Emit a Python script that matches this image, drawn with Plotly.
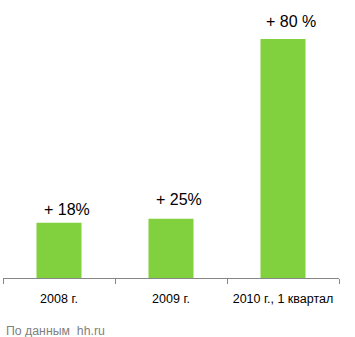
import plotly.graph_objects as go

categories = ["2008 г.", "2009 г.", "2010 г., 1 квартал"]
values = [18, 19.3, 78]
labels = ["+ 18%", "+ 25%", "+ 80 %"]
source = "По данным  hh.ru"

label_yshift = [3, 9, 7]

fig = go.Figure()
fig.add_trace(go.Bar(x=categories, y=values, marker=dict(color="#80d13d", line=dict(width=0)),
                     hoverinfo="skip"))

for c, v, t, ys in zip(categories, values, labels, label_yshift):
    fig.add_annotation(x=c, y=v, text=t, showarrow=False, xshift=8, yshift=ys,
                       yanchor="bottom", font=dict(size=16, color="#000000",
                                                   family="Liberation Sans, Arial"))

fig.add_annotation(xref="paper", yref="paper", x=0, y=-0.19, xanchor="left", yanchor="middle",
                   xshift=1, text=source, showarrow=False,
                   font=dict(size=12.3, color="#808080", family="Liberation Sans, Arial"))

fig.update_layout(
    width=355, height=337,
    margin=dict(l=3, r=16, t=0, b=59),
    paper_bgcolor="white", plot_bgcolor="white",
    bargap=0.598, showlegend=False,
    font=dict(family="Liberation Sans, Arial", size=12, color="#000000"),
)
fig.update_xaxes(showline=True, linecolor="#868686", linewidth=1, ticks="outside",
                 tickson="boundaries", ticklen=5, tickcolor="#868686", showgrid=False,
                 ticklabelstandoff=9,
                 tickfont=dict(size=12.5, color="#000000"))
fig.update_yaxes(visible=False, range=[0, 90.7], showgrid=False, zeroline=False)

fig.write_html("out.html")
